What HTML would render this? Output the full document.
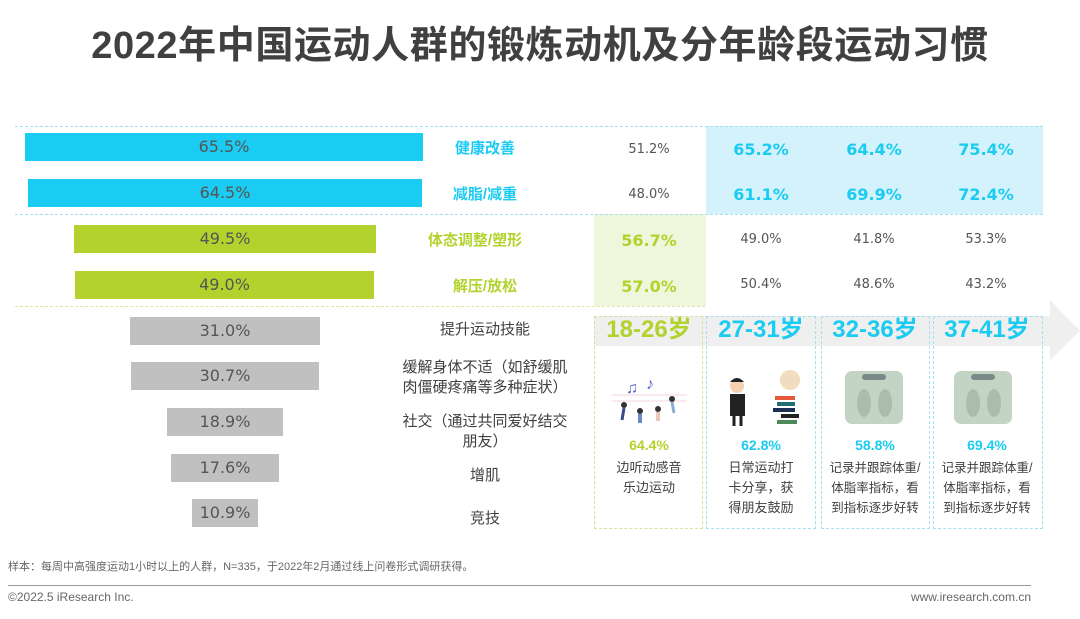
<!DOCTYPE html>
<html><head><meta charset="utf-8"><style>
*{margin:0;padding:0;box-sizing:border-box}
body{width:1080px;height:619px;background:#fff;position:relative;overflow:hidden;font-family:"Liberation Sans","Noto Sans CJK SC",sans-serif;color:#404040}
.a{position:absolute}
.bar{position:absolute;height:28px;font-size:16px;color:#555;line-height:28px;text-align:center;font-family:"DejaVu Sans","Noto Sans CJK SC",sans-serif}
.lbl{position:absolute;width:180px;text-align:center;font-size:15px;line-height:20px;color:#404040}
.v{position:absolute;width:110px;text-align:center;font-size:13px;color:#555;font-family:"DejaVu Sans",sans-serif}
.vb{position:absolute;width:110px;text-align:center;font-size:16px;font-weight:bold;font-family:"DejaVu Sans",sans-serif}
.card{position:absolute;top:316px;height:213px;border:1px dashed #a8dff0}
.age{position:absolute;width:110px;text-align:center;font-size:24px;font-weight:bold;top:315px;line-height:30px}
.pct{position:absolute;width:110px;text-align:center;font-size:14px;font-weight:bold;top:437px}
.desc{position:absolute;width:110px;text-align:center;font-size:13px;line-height:20px;top:458px;color:#404040}
</style></head><body>
<div class="a" style="left:0;top:14px;width:1080px;text-align:center;font-size:38px;font-weight:bold;color:#404040;letter-spacing:0.6px">2022年中国运动人群的锻炼动机及分年龄段运动习惯</div>

<div class="a" style="left:706px;top:126px;width:337px;height:88px;background:#d4f2fb"></div>
<div class="a" style="left:594px;top:214px;width:112px;height:92px;background:#eff6dc"></div>
<div class="a" style="left:15px;top:126px;width:1028px;border-top:1px dashed #a8dff0"></div>
<div class="a" style="left:15px;top:214px;width:1028px;border-top:1px dashed #a8dff0"></div>
<div class="a" style="left:15px;top:306px;width:690px;border-top:1px dashed #d8eaa0"></div>

<div class="bar" style="left:25px;top:133px;width:398px;background:#1acbf2">65.5%</div>
<div class="bar" style="left:28px;top:179px;width:394px;background:#1acbf2">64.5%</div>
<div class="bar" style="left:74px;top:225px;width:302px;background:#b3d22d">49.5%</div>
<div class="bar" style="left:75px;top:271px;width:299px;background:#b3d22d">49.0%</div>
<div class="bar" style="left:130px;top:317px;width:190px;background:#c0c0c0">31.0%</div>
<div class="bar" style="left:131px;top:362px;width:188px;background:#c0c0c0">30.7%</div>
<div class="bar" style="left:167px;top:408px;width:116px;background:#c0c0c0">18.9%</div>
<div class="bar" style="left:171px;top:454px;width:108px;background:#c0c0c0">17.6%</div>
<div class="bar" style="left:192px;top:499px;width:66px;background:#c0c0c0">10.9%</div>

<div class="lbl" style="left:395px;top:139px;color:#1acbf2;font-weight:bold">健康改善</div>
<div class="lbl" style="left:395px;top:185px;color:#1acbf2;font-weight:bold">减脂/减重</div>
<div class="lbl" style="left:385px;top:231px;color:#b3d22d;font-weight:bold">体态调整/塑形</div>
<div class="lbl" style="left:395px;top:277px;color:#b3d22d;font-weight:bold">解压/放松</div>
<div class="lbl" style="left:395px;top:320px">提升运动技能</div>
<div class="lbl" style="left:395px;top:358px">缓解身体不适（如舒缓肌<br>肉僵硬疼痛等多种症状）</div>
<div class="lbl" style="left:395px;top:412px">社交（通过共同爱好结交<br>朋友）</div>
<div class="lbl" style="left:395px;top:466px">增肌</div>
<div class="lbl" style="left:395px;top:509px">竞技</div>

<div class="v" style="left:594px;top:142px">51.2%</div>
<div class="v" style="left:594px;top:187px">48.0%</div>
<div class="vb" style="left:594px;top:231px;color:#b3d22d">56.7%</div>
<div class="vb" style="left:594px;top:277px;color:#b3d22d">57.0%</div>
<div class="vb" style="left:706px;top:140px;color:#1acbf2">65.2%</div>
<div class="vb" style="left:706px;top:185px;color:#1acbf2">61.1%</div>
<div class="vb" style="left:819px;top:140px;color:#1acbf2">64.4%</div>
<div class="vb" style="left:819px;top:185px;color:#1acbf2">69.9%</div>
<div class="vb" style="left:931px;top:140px;color:#1acbf2">75.4%</div>
<div class="vb" style="left:931px;top:185px;color:#1acbf2">72.4%</div>
<div class="v" style="left:706px;top:232px">49.0%</div>
<div class="v" style="left:706px;top:277px">50.4%</div>
<div class="v" style="left:819px;top:232px">41.8%</div>
<div class="v" style="left:819px;top:277px">48.6%</div>
<div class="v" style="left:931px;top:232px">53.3%</div>
<div class="v" style="left:931px;top:277px">43.2%</div>

<svg class="a" style="left:594px;top:298px" width="486" height="64"><polygon points="0,18 456,18 456,2 486,33 456,62 456,48 0,48" fill="#efefef"/></svg>

<div class="card" style="left:594px;width:109px;border-color:#d3e4a0"></div>
<div class="card" style="left:706px;width:110px"></div>
<div class="card" style="left:821px;width:109px"></div>
<div class="card" style="left:933px;width:110px"></div>

<div class="age" style="left:594px;color:#b3d22d">18-26岁</div>
<div class="age" style="left:706px;color:#1acbf2">27-31岁</div>
<div class="age" style="left:820px;color:#1acbf2">32-36岁</div>
<div class="age" style="left:932px;color:#1acbf2">37-41岁</div>

<svg class="a" style="left:612px;top:375px" width="80" height="50">
<line x1="0" y1="20" x2="75" y2="20" stroke="#f3d6dd"/><line x1="0" y1="26" x2="75" y2="26" stroke="#f3d6dd"/>
<text x="14" y="18" font-size="16" fill="#5560c8">♫</text><text x="34" y="14" font-size="16" fill="#5560c8">♪</text>
<circle cx="12" cy="30" r="3" fill="#333"/><line x1="12" y1="33" x2="10" y2="45" stroke="#3a4a8a" stroke-width="3"/>
<circle cx="28" cy="36" r="3" fill="#333"/><line x1="28" y1="39" x2="28" y2="48" stroke="#6a8ad0" stroke-width="4"/>
<circle cx="46" cy="34" r="3" fill="#333"/><line x1="46" y1="37" x2="46" y2="46" stroke="#e8c8c0" stroke-width="4"/>
<circle cx="60" cy="24" r="3" fill="#333"/><line x1="60" y1="27" x2="62" y2="38" stroke="#8aaad8" stroke-width="3"/>
</svg>
<svg class="a" style="left:725px;top:370px" width="85" height="60">
<circle cx="65" cy="10" r="10" fill="#f2dcc0"/>
<circle cx="12" cy="16" r="7" fill="#f5d0b0"/><path d="M5 12 Q12 4 19 12" fill="#222"/>
<rect x="5" y="24" width="15" height="22" fill="#222"/><line x1="9" y1="46" x2="9" y2="56" stroke="#222" stroke-width="3"/><line x1="16" y1="46" x2="16" y2="56" stroke="#222" stroke-width="3"/>
<rect x="50" y="26" width="20" height="4" fill="#e55a3c"/><rect x="52" y="32" width="18" height="4" fill="#1f6e74"/><rect x="48" y="38" width="22" height="4" fill="#1a3050"/><rect x="56" y="44" width="18" height="4" fill="#222"/><rect x="52" y="50" width="20" height="4" fill="#4d8a5a"/>
</svg>
<svg class="a" style="left:845px;top:371px" width="60" height="54"><rect width="58" height="53" rx="7" fill="#c4d4c4"/><rect x="17" y="3" width="24" height="6" rx="3" fill="#7a8a8a"/><ellipse cx="19" cy="32" rx="7" ry="14" fill="#aabcac"/><ellipse cx="40" cy="32" rx="7" ry="14" fill="#aabcac"/></svg>
<svg class="a" style="left:954px;top:371px" width="60" height="54"><rect width="58" height="53" rx="7" fill="#c4d4c4"/><rect x="17" y="3" width="24" height="6" rx="3" fill="#7a8a8a"/><ellipse cx="19" cy="32" rx="7" ry="14" fill="#aabcac"/><ellipse cx="40" cy="32" rx="7" ry="14" fill="#aabcac"/></svg>

<div class="pct" style="left:594px;color:#b3d22d">64.4%</div>
<div class="pct" style="left:706px;color:#1acbf2">62.8%</div>
<div class="pct" style="left:820px;color:#1acbf2">58.8%</div>
<div class="pct" style="left:932px;color:#1acbf2">69.4%</div>
<div class="desc" style="left:594px">边听动感音<br>乐边运动</div>
<div class="desc" style="left:706px">日常运动打<br>卡分享，获<br>得朋友鼓励</div>
<div class="desc" style="left:820px;font-size:12.5px">记录并跟踪体重/<br>体脂率指标，看<br>到指标逐步好转</div>
<div class="desc" style="left:932px;font-size:12.5px">记录并跟踪体重/<br>体脂率指标，看<br>到指标逐步好转</div>

<div class="a" style="left:8px;top:558px;font-size:11px;color:#666">样本：每周中高强度运动1小时以上的人群，N=335，于2022年2月通过线上问卷形式调研获得。</div>
<div class="a" style="left:8px;top:585px;width:1023px;border-top:1px solid #999"></div>
<div class="a" style="left:8px;top:590px;font-size:12px;color:#666">©2022.5 iResearch Inc.</div>
<div class="a" style="right:49px;top:590px;font-size:12px;color:#666">www.iresearch.com.cn</div>
</body></html>
